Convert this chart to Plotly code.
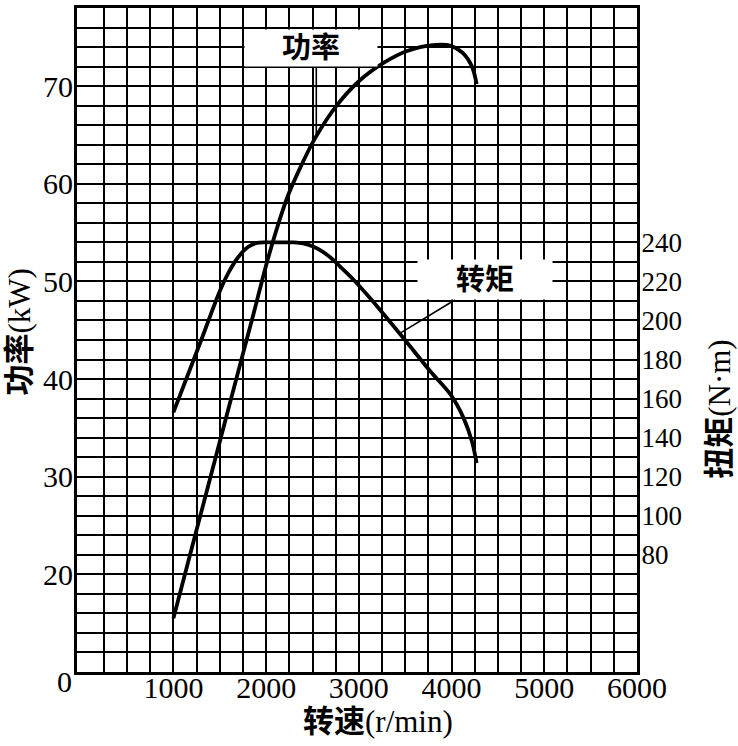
import plotly.graph_objects as go

# Power curve (kW) vs speed (r/min)
power_rpm = [1000, 1240, 1470, 1700, 1870, 2010, 2135, 2240, 2400, 2530, 2760, 3000, 3270, 3520, 3800, 4000, 4120, 4220, 4270]
power_kw = [15.5, 24.2, 32.5, 40.8, 46.9, 52.0, 56.0, 58.9, 62.3, 64.7, 68.0, 70.5, 72.4, 73.6, 74.2, 74.1, 73.4, 72.0, 70.2]

# Torque curve (N·m) vs speed (r/min)
torque_rpm = [1000, 1130, 1300, 1500, 1600, 1700, 1800, 1900, 2000, 2200, 2300, 2400, 2500, 2600, 2700, 2800, 2940, 3120, 3480, 3770, 3990, 4130, 4220, 4270]
torque_nm = [153, 169, 190, 215, 225, 232.5, 237.5, 239.7, 240, 240, 240, 239.5, 238, 235.5, 232, 227.5, 221, 211.5, 191, 174, 162, 150, 138, 127]

x_ticks = [1000, 2000, 3000, 4000, 5000, 6000]
power_ticks = [20, 30, 40, 50, 60, 70]
torque_ticks = [80, 100, 120, 140, 160, 180, 200, 220, 240]

X_RANGE = [-40, 6000]
P_RANGE = [10, 78]
T_RANGE = [20, 360]

SERIF = "Liberation Serif, Noto Sans CJK SC, serif"
CJK = "Liberation Serif, Noto Sans CJK SC, sans-serif"

fig = go.Figure()
fig.add_trace(go.Scatter(x=power_rpm, y=power_kw, mode="lines",
                         line=dict(color="black", width=3.8, shape="spline", smoothing=1.0),
                         yaxis="y", showlegend=False, hoverinfo="skip"))
fig.add_trace(go.Scatter(x=torque_rpm, y=torque_nm, mode="lines",
                         line=dict(color="black", width=3.8, shape="spline", smoothing=1.0),
                         yaxis="y2", showlegend=False, hoverinfo="skip"))

x_minor = [v for v in range(250, 6000, 250) if v % 1000 != 0]
y_minor = [v for v in range(12, 78, 2) if v % 10 != 0]

fig.update_layout(
    width=738, height=746,
    margin=dict(l=77, r=101, t=5, b=74),
    paper_bgcolor="white", plot_bgcolor="white",
    xaxis=dict(range=X_RANGE, tickvals=x_ticks, ticktext=[str(v) for v in x_ticks],
               showgrid=True, gridcolor="black", gridwidth=2.3,
               minor=dict(tickvals=x_minor, showgrid=True, gridcolor="black", gridwidth=2.3),
               showline=True, linecolor="black", linewidth=3.2, mirror=True,
               ticks="", zeroline=False, ticklabelstandoff=-13,
               tickfont=dict(family=SERIF, size=30, color="black")),
    yaxis=dict(range=P_RANGE, tickvals=power_ticks, ticktext=[str(v) for v in power_ticks],
               showgrid=True, gridcolor="black", gridwidth=2.3,
               minor=dict(tickvals=y_minor, showgrid=True, gridcolor="black", gridwidth=2.3),
               showline=True, linecolor="black", linewidth=3.2, mirror=True,
               ticks="", zeroline=False, ticklabelstandoff=-5,
               tickfont=dict(family=SERIF, size=30, color="black")),
    yaxis2=dict(range=T_RANGE, tickvals=torque_ticks, ticktext=[str(v) for v in torque_ticks],
                overlaying="y", side="right", showgrid=False, zeroline=False,
                showline=True, linecolor="black", linewidth=3.2, ticks="", ticklabelstandoff=-4,
                tickfont=dict(family=SERIF, size=27, color="black")),
)

# leader lines
fig.add_shape(type="line", xref="x", yref="y", x0=2541, x1=2541, y0=72.1, y1=65.0,
              line=dict(color="black", width=1.6))
fig.add_shape(type="line", xref="x", yref="y2", x0=4039, y0=210.6, x1=3446, y1=193.5,
              line=dict(color="black", width=1.6))

# curve labels with white boxes
fig.add_annotation(x=2487, y=73.9, xref="x", yref="y", text="<b>功率</b>", showarrow=False,
                   bgcolor="white", width=132, height=36, borderpad=0,
                   font=dict(family=CJK, size=29, color="black"))
fig.add_annotation(x=4362, y=221, xref="x", yref="y2", text="<b>转矩</b>", showarrow=False,
                   bgcolor="white", width=134, height=39, borderpad=0,
                   font=dict(family=CJK, size=29, color="black"))

# corner zero label
fig.add_annotation(x=-0.022, y=-0.015, xref="paper", yref="paper", text="0", showarrow=False,
                   xanchor="center", yanchor="middle",
                   font=dict(family=SERIF, size=30, color="black"))

# axis titles
fig.add_annotation(x=-0.1018, y=0.5127, xref="paper", yref="paper", text="<b>功率</b>(kW)",
                   showarrow=False, textangle=-90, xanchor="center", yanchor="middle",
                   font=dict(family=CJK, size=31, color="black"))
fig.add_annotation(x=1.146, y=0.396, xref="paper", yref="paper", text="<b>扭矩</b>(N·m)",
                   showarrow=False, textangle=-90, xanchor="center", yanchor="middle",
                   font=dict(family=CJK, size=31, color="black"))
fig.add_annotation(x=0.538, y=-0.075, xref="paper", yref="paper", text="<b>转速</b>(r/min)",
                   showarrow=False, xanchor="center", yanchor="middle",
                   font=dict(family=CJK, size=31, color="black"))

fig.write_html("out.html")
